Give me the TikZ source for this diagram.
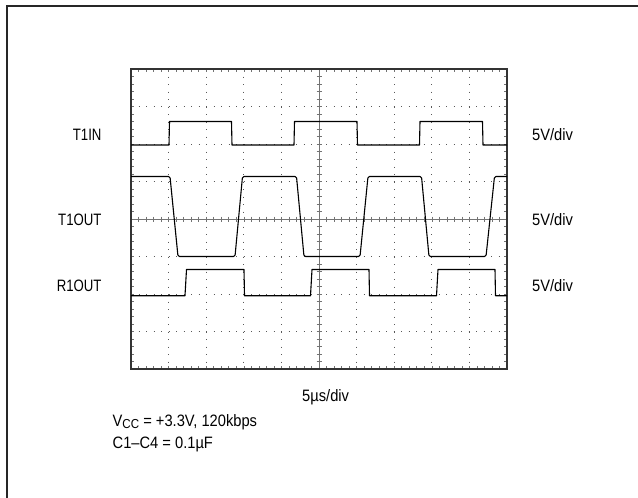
\documentclass[tikz,border=0pt]{standalone}
\usepackage{fontspec}
\setmainfont[FakeStretch=0.89]{Liberation Sans}
\newfontfamily\narrowfont[FakeStretch=0.8]{Liberation Sans}
\begin{document}
\begin{tikzpicture}[x=1pt,y=-1pt,
  lbl/.style={font=\fontsize{16.5}{15}\selectfont,inner sep=0pt},
  sig/.style={lbl,font=\fontsize{16.5}{15}\selectfont\narrowfont,anchor=east},
  griddot/.style={black!65,line width=0.75pt,dash pattern=on 0.75pt off 6.75pt},
  tick/.style={black!55,line width=0.6pt},
  trace/.style={black,line width=1.1pt,line join=round}]

\useasboundingbox (0,0) rectangle (638,498);

% outer frame
\draw[line width=2pt,black!85] (638,6) -- (6.5,6) -- (6.5,498);

% grid
\foreach \i in {1,2,3,4,6,7,8,9}
  \draw[griddot] ({131+37.6*\i},69) -- ({131+37.6*\i},369);
\foreach \j in {1,2,3,5,6,7}
  \draw[griddot] (131,{69+37.5*\j}) -- (507,{69+37.5*\j});

% centre axes
\draw[tick] (319,69) -- (319,369) (131,219) -- (507,219);
\foreach \k in {1,...,49}
  \draw[tick] ({131+7.52*\k},216.5) -- ++(0,5);
\foreach \k in {1,...,39}
  \draw[tick] (316.5,{69+7.5*\k}) -- ++(5,0);

% frame ticks
\foreach \k in {1,...,49}
  \draw[tick] ({131+7.52*\k},69) -- ++(0,3) ({131+7.52*\k},369) -- ++(0,-3);
\foreach \k in {1,...,39}
  \draw[tick] (131,{69+7.5*\k}) -- ++(3,0) (507,{69+7.5*\k}) -- ++(-3,0);
\draw[black!80,line width=1.3pt] (131,69) rectangle (507,369);

% traces
\draw[trace] (131,145)--(169,145)--(169.5,121.5)--(231.5,121.5)--(232,145)--(294,145)--(294.5,121.5)--(357,121.5)--(357.5,145)--(419.5,145)--(420,121.5)--(482.5,121.5)--(483,145)--(507,145);
\draw[trace,rounded corners=1.5pt] (131,176.5)--(170,176.5)--(178,256.5)--(235,256.5)--(242.5,176.5)--(296.5,176.5)--(304,256.5)--(360,256.5)--(368,176.5)--(421.5,176.5)--(429,256.5)--(486,256.5)--(494.5,176.5)--(507,176.5);
\draw[trace] (131,295.7)--(185,295.7)--(186.5,269.5)--(244,269.5)--(244.5,295.7)--(310.5,295.7)--(312,269.5)--(369,269.5)--(369.5,295.7)--(436.5,295.7)--(438,269.5)--(495,269.5)--(495.5,295.7)--(507,295.7);

% labels
\node[sig] (t1in) at (101.7,135) {T1IN};
\node[sig] (t1out) at (101.7,220) {T1OUT};
\node[sig] (r1out) at (101.7,285.7) {R1OUT};
\node[lbl,anchor=west] (vdiva) at (532,135) {5V/div};
\node[lbl,anchor=west] (vdivb) at (532,219.3) {5V/div};
\node[lbl,anchor=west] (vdivc) at (532,285.7) {5V/div};
\node[lbl,anchor=base west] (tdiv) at (302,401) {5µs/div};
\node[lbl,anchor=base west] (vcc) at (112.5,426.7) {V\raisebox{-1.6pt}{\fontsize{13}{13}\selectfont CC} = +3.3V, 120kbps};
\node[lbl,anchor=base west] (caps) at (112.5,448) {C1--C4 = 0.1µF};

\end{tikzpicture}
\end{document}
